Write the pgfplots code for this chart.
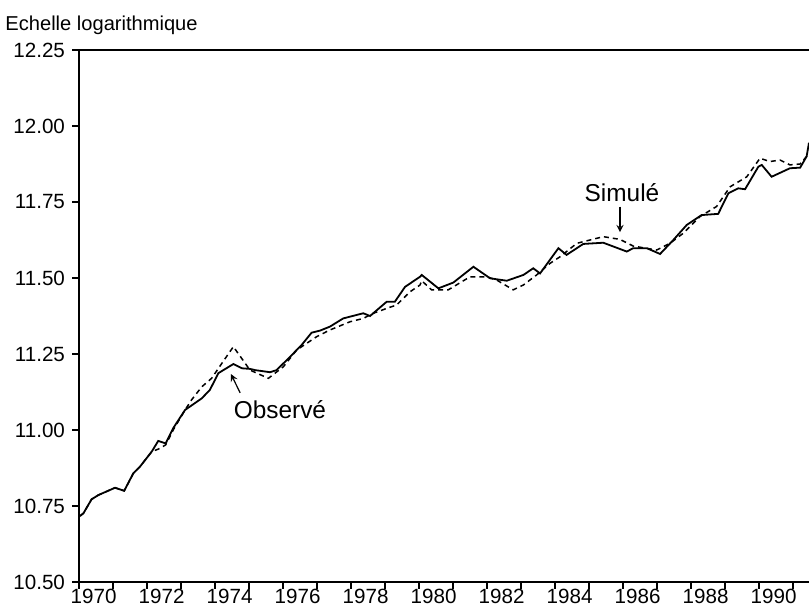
\documentclass[border=0pt]{standalone}
\usepackage{pgfplots}
\pgfplotsset{compat=1.18}
\usepackage{fontspec}
\setmainfont{Liberation Sans}
\usetikzlibrary{calc}

\begin{document}
\begin{tikzpicture}
\begin{axis}[
    scale only axis,
    width=365pt, height=266pt,
    xmin=1970, xmax=1991.47,
    ymin=10.5, ymax=12.25,
    axis x line=box, axis y line=left,
    axis line style={-, line width=0.7pt},
    xtick={1970,...,1991},
    xticklabels={},
    minor x tick num=3,
    extra x ticks={1970.43,1972.43,1974.43,1976.43,1978.43,1980.43,1982.43,1984.43,1986.43,1988.43,1990.43},
    extra x tick labels={1970,1972,1974,1976,1978,1980,1982,1984,1986,1988,1990},
    extra x tick style={major tick length=0pt},
    xtick pos=left, ytick pos=left,
    tick align=outside,
    major tick length=3.5pt, minor tick length=2pt,
    tick style={black, line width=0.6pt},
    ytick={10.5,10.75,11,11.25,11.5,11.75,12,12.25},
    yticklabel style={/pgf/number format/.cd, fixed, fixed zerofill, precision=2},
    /pgf/number format/assume math mode=true,
    tick label style={font=\fontsize{10.3}{12}\selectfont},
]
% observe
\addplot[black, line width=0.9pt] coordinates {
(1970.03,10.717) (1970.13,10.726) (1970.37,10.772) (1970.57,10.786) (1971.06,10.810)
(1971.33,10.800) (1971.60,10.858) (1971.79,10.879) (1972.14,10.929) (1972.33,10.964)
(1972.55,10.956) (1972.77,11.006) (1973.12,11.066) (1973.61,11.104) (1973.85,11.132)
(1974.10,11.187) (1974.54,11.217) (1974.79,11.203) (1975.03,11.201) (1975.18,11.197)
(1975.62,11.190) (1975.81,11.197) (1976.21,11.241) (1976.55,11.280) (1976.84,11.320)
(1977.09,11.327) (1977.38,11.340) (1977.77,11.367) (1978.36,11.384) (1978.56,11.375)
(1979.05,11.422) (1979.29,11.422) (1979.59,11.471) (1980.03,11.504) (1980.08,11.510)
(1980.57,11.466) (1981.01,11.485) (1981.60,11.537) (1982.09,11.499) (1982.58,11.491)
(1983.07,11.510) (1983.36,11.532) (1983.56,11.515) (1984.10,11.598) (1984.34,11.576)
(1984.83,11.612) (1985.42,11.616) (1986.11,11.587) (1986.30,11.598) (1986.70,11.598)
(1987.09,11.579) (1987.48,11.625) (1987.87,11.674) (1988.31,11.707) (1988.80,11.711)
(1989.10,11.779) (1989.39,11.795) (1989.59,11.792) (1989.98,11.866) (1990.08,11.872)
(1990.37,11.833) (1990.91,11.861) (1991.21,11.863) (1991.40,11.900) (1991.47,11.945)
};
% simule
\addplot[black, line width=0.75pt, dash pattern=on 2.5pt off 2pt] coordinates {
(1970.03,10.717) (1970.13,10.726) (1970.37,10.772) (1970.57,10.786) (1971.06,10.810)
(1971.33,10.800) (1971.60,10.858) (1971.79,10.879) (1972.14,10.929) (1972.33,10.937)
(1972.55,10.951) (1972.77,11.000) (1973.12,11.066) (1973.31,11.099) (1973.61,11.142)
(1973.90,11.170) (1974.20,11.219) (1974.54,11.274) (1975.03,11.197) (1975.57,11.170)
(1976.01,11.208) (1976.40,11.263) (1976.99,11.307) (1977.38,11.329) (1977.97,11.356)
(1978.36,11.367) (1978.66,11.384) (1979.05,11.400) (1979.34,11.411) (1979.74,11.455)
(1980.03,11.477) (1980.08,11.491) (1980.37,11.461) (1980.86,11.461) (1981.50,11.504)
(1981.99,11.504) (1982.29,11.493) (1982.77,11.461) (1983.07,11.477) (1983.46,11.510)
(1983.85,11.548) (1984.15,11.570) (1984.64,11.614) (1985.03,11.625) (1985.42,11.636)
(1985.91,11.627) (1986.30,11.605) (1986.99,11.592) (1987.38,11.614) (1987.77,11.647)
(1988.26,11.702) (1988.75,11.735) (1989.15,11.800) (1989.64,11.833) (1990.03,11.894)
(1990.32,11.883) (1990.62,11.888) (1990.91,11.872) (1991.21,11.875) (1991.44,11.905)
};
\node[font=\fontsize{12.2}{14}\selectfont] at (axis cs:1975.91,11.066) {Observé};
\draw[-stealth, line width=0.6pt] (axis cs:1974.74,11.122) -- (axis cs:1974.47,11.184);
\node[font=\fontsize{12.2}{14}\selectfont] at (axis cs:1985.97,11.780) {Simulé};
\draw[-stealth, line width=0.6pt] (axis cs:1985.91,11.735) -- (axis cs:1985.91,11.651);
\end{axis}
\node[anchor=base west, font=\fontsize{10.05}{12}\selectfont] at ($(current axis.north west)+(-40.3pt,9.5pt)$) {Echelle logarithmique};
\pgfresetboundingbox
\path[use as bounding box] ($(current axis.south west)+(-39.5pt,-14pt)$) rectangle ($(current axis.north east)+(0pt,25pt)$);
\end{tikzpicture}
\end{document}
